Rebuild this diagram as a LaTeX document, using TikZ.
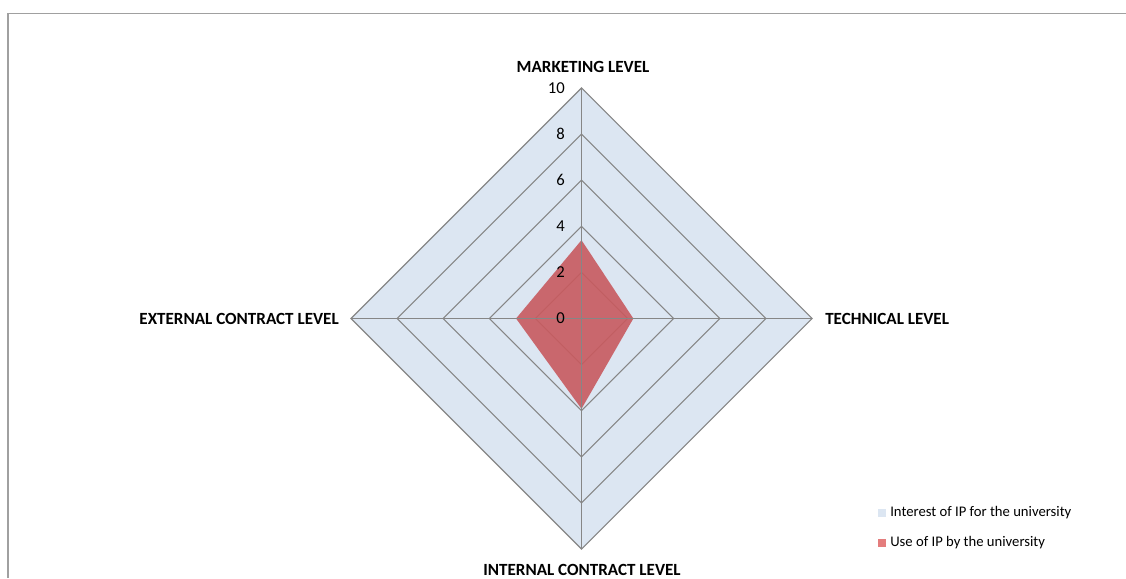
\documentclass[tikz,border=0pt]{standalone}
\usepackage{fontspec}
\setmainfont{Carlito}
\definecolor{gridfill}{RGB}{220,230,242}
\definecolor{gridline}{RGB}{134,134,134}
\definecolor{usefill}{RGB}{200,90,95}
\definecolor{usekey}{RGB}{228,125,125}
\definecolor{framegray}{RGB}{160,160,160}
\tikzset{
  axislabel/.style={font=\fontsize{12.8}{15}\selectfont\bfseries, inner sep=0pt},
  ticklabel/.style={font=\fontsize{12.5}{15}\selectfont, inner sep=0pt, anchor=east},
  legendtext/.style={font=\fontsize{11}{13}\selectfont, inner sep=0pt, anchor=west},
  legendkey/.style={minimum size=6pt, inner sep=0pt},
  gridring/.style={draw=gridline, line width=0.8pt}
}
\begin{document}
\begin{tikzpicture}[x=0.75pt,y=0.75pt]
\useasboundingbox (-581.5,-259.5) rectangle (544.5,318.5);
% chart frame
\coordinate (ftl) at (-573.5,305.2);
\coordinate (fbl) at (-573.5,-259.5);
\coordinate (ftr) at (544.5,305.2);
\path[draw,framegray,line width=1pt] (fbl) -- (ftl) -- (ftr);
% axes ends
\coordinate (o) at (0,0);
\coordinate (mk) at (90:230.5);
\coordinate (tc) at (0:230.5);
\coordinate (ic) at (270:230.5);
\coordinate (ec) at (180:230.5);
% interest of IP
\path[fill=gridfill] (mk) -- (tc) -- (ic) -- (ec) -- cycle;
\foreach \v in {2,4,6,8,10}
  \path[gridring] (90:{\v*23.05}) -- (0:{\v*23.05}) -- (270:{\v*23.05}) -- (180:{\v*23.05}) -- cycle;
% use of IP
\path[fill=usefill,fill opacity=0.9] (90:{3.4*23.05}) -- (0:{2.25*23.05}) -- (270:{3.92*23.05}) -- (180:{2.84*23.05}) -- cycle;
\path[draw,gridline,line width=0.8pt] (o) -- (mk);
\path[draw,gridline,line width=0.8pt] (o) -- (tc);
\path[draw,gridline,line width=0.8pt] (o) -- (ic);
\path[draw,gridline,line width=0.8pt] (o) -- (ec);
% scale
\foreach \v in {0,2,4,6,8,10}
  \node[ticklabel] (t\v) at (-16.5,{\v*23.05}) {\v};
% axis names
\node[axislabel] (mklabel) at (1.5,251.5) {MARKETING LEVEL};
\node[axislabel, anchor=west] (tclabel) at (243.5,0) {TECHNICAL LEVEL};
\node[axislabel] (iclabel) at (0.5,-251) {INTERNAL CONTRACT LEVEL};
\node[axislabel, anchor=east] (eclabel) at (-242.5,0) {EXTERNAL CONTRACT LEVEL};
% legend
\node[legendkey, fill=gridfill] (k1) at (300.5,-194) {};
\node[legendtext] (l1) at (308.5,-194) {Interest of IP for the university};
\node[legendkey, fill=usekey] (k2) at (300.5,-224) {};
\node[legendtext] (l2) at (308.5,-224) {Use of IP by the university};
\end{tikzpicture}
\end{document}
